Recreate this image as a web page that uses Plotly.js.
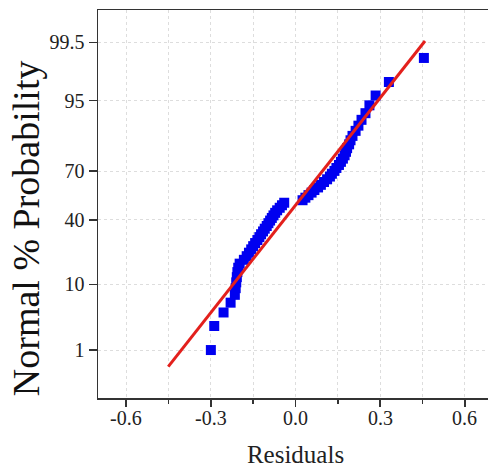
<!DOCTYPE html>
<html><head><meta charset="utf-8">
<script src="https://cdn.plot.ly/plotly-3.0.1.min.js"></script>
<style>html,body{margin:0;padding:0;overflow:hidden;background:#fff}</style>
</head><body><div id="chart"></div>
<script>
// Residuals (sorted)
const residuals = [
  -0.300, -0.288, -0.255, -0.230, -0.215, -0.212, -0.210, -0.208, -0.206, -0.203,
  -0.198, -0.183, -0.173, -0.165, -0.157, -0.150, -0.143, -0.135, -0.128, -0.122,
  -0.115, -0.109, -0.102, -0.096, -0.090, -0.084, -0.078, -0.072, -0.065, -0.056,
  -0.048, -0.040,
   0.025,  0.035,  0.046,  0.057,  0.067,  0.080,  0.090,  0.101,  0.112,  0.122,
   0.129,  0.138,  0.145,  0.154,  0.161,  0.168,  0.174,  0.179,  0.183,  0.190,
   0.195,  0.202,  0.213,  0.223,  0.234,  0.248,  0.262,  0.284,  0.331,  0.455
];
// Normal % probability of each point
const probabilities = [
  1.0, 2.6, 4.2, 5.8, 7.4, 9.0, 10.6, 12.2, 13.9, 15.5,
  17.1, 18.7, 20.3, 21.9, 23.5, 25.1, 26.7, 28.3, 29.9, 31.5,
  33.1, 34.7, 36.3, 38.0, 39.6, 41.2, 42.8, 44.4, 46.0, 47.6,
  49.2, 50.8, 52.4, 54.0, 55.6, 57.2, 58.8, 60.4, 62.0, 63.7,
  65.3, 66.9, 68.5, 70.1, 71.7, 73.3, 74.9, 76.5, 78.1, 79.7,
  81.3, 82.9, 84.5, 86.1, 87.8, 89.4, 91.0, 92.6, 94.2, 95.8,
  97.4, 99.0
];
// Fitted normal line end points
const fitResiduals = [-0.451, 0.459];
const fitProbabilities = [0.48, 99.53];

const yTickValues = [1, 10, 40, 70, 95, 99.5];
const yTickLabels = ['1', '10', '40', '70', '95', '99.5'];
const xTickValues = [-0.6, -0.3, 0.0, 0.3, 0.6];
const xTickLabels = ['-0.6', '-0.3', '0.0', '0.3', '0.6'];
const xMinorTicks = [-0.45, -0.15, 0.15, 0.45];
const yRangePct = [0.1, 99.9];
const xTitle = 'Residuals';
const yTitle = 'Normal % Probability';

// inverse standard normal CDF (Acklam)
function normInv(p) {
  const a = [-3.969683028665376e+01, 2.209460984245205e+02, -2.759285104469687e+02, 1.383577518672690e+02, -3.066479806614716e+01, 2.506628277459239e+00];
  const b = [-5.447609879822406e+01, 1.615858368580409e+02, -1.556989798598866e+02, 6.680131188771972e+01, -1.328068155288572e+01];
  const c = [-7.784894002430293e-03, -3.223964580411365e-01, -2.400758277161838e+00, -2.549732539343734e+00, 4.374664141464968e+00, 2.938163982698783e+00];
  const d = [7.784695709041462e-03, 3.224671290700398e-01, 2.445134137142996e+00, 3.754408661907416e+00];
  const pl = 0.02425, ph = 1 - pl;
  let q, r;
  if (p < pl) {
    q = Math.sqrt(-2 * Math.log(p));
    return (((((c[0]*q+c[1])*q+c[2])*q+c[3])*q+c[4])*q+c[5]) / ((((d[0]*q+d[1])*q+d[2])*q+d[3])*q+1);
  } else if (p <= ph) {
    q = p - 0.5; r = q * q;
    return (((((a[0]*r+a[1])*r+a[2])*r+a[3])*r+a[4])*r+a[5])*q / (((((b[0]*r+b[1])*r+b[2])*r+b[3])*r+b[4])*r+1);
  } else {
    q = Math.sqrt(-2 * Math.log(1 - p));
    return -(((((c[0]*q+c[1])*q+c[2])*q+c[3])*q+c[4])*q+c[5]) / ((((d[0]*q+d[1])*q+d[2])*q+d[3])*q+1);
  }
}
const toZ = pct => normInv(pct / 100);

const serif = 'Liberation Serif';
const axisColor = '#333333';
const textColor = '#222222';
const gridColor = '#dddddd';

const traces = [
  {
    type: 'scatter', mode: 'markers',
    x: residuals, y: probabilities.map(toZ),
    marker: { symbol: 'square', size: 10, color: '#0000f0', line: { width: 0 } },
    hoverinfo: 'skip', showlegend: false
  },
  {
    type: 'scatter', mode: 'lines',
    x: fitResiduals, y: fitProbabilities.map(toZ),
    line: { color: '#e3201c', width: 3 },
    hoverinfo: 'skip', showlegend: false
  }
];

// x tick labels placed just below the axis
const annotations = xTickValues.map((v, i) => ({
  x: v, xref: 'x', y: 0, yref: 'paper',
  text: xTickLabels[i], showarrow: false,
  xanchor: 'center', yanchor: 'top', yshift: -7,
  font: { family: serif, size: 20, color: textColor }
}));
annotations.push({
  x: -0.182, xref: 'paper', y: 0.438, yref: 'paper',
  text: yTitle, showarrow: false, textangle: -90,
  xanchor: 'center', yanchor: 'middle',
  font: { family: serif, size: 38, color: '#111111' }
});

const layout = {
  width: 493, height: 470,
  margin: { l: 98, r: 0, t: 10, b: 72 },
  paper_bgcolor: '#ffffff', plot_bgcolor: '#ffffff',
  font: { family: serif, color: axisColor },
  annotations: annotations,
  xaxis: {
    range: [-0.7, 0.7],
    tickmode: 'array', tickvals: xTickValues, ticktext: xTickLabels, showticklabels: false,
    ticks: 'outside', ticklen: 7, tickwidth: 1.5, tickcolor: axisColor,
    showline: true, linecolor: axisColor, linewidth: 1.5, mirror: true,
    showgrid: true, gridcolor: gridColor, griddash: 'dot', gridwidth: 1,
    zeroline: false,
    minor: { tickvals: xMinorTicks, ticks: 'outside', ticklen: 4, tickwidth: 1.5, tickcolor: axisColor,
             showgrid: true, gridcolor: gridColor, griddash: 'dot', gridwidth: 1 },
    title: { text: xTitle, font: { family: serif, size: 25, color: textColor }, standoff: 40 }
  },
  yaxis: {
    range: yRangePct.map(toZ),
    tickmode: 'array', tickvals: yTickValues.map(toZ), ticktext: yTickLabels,
    ticks: 'outside', ticklen: 8, tickwidth: 1.5, tickcolor: axisColor,
    showline: true, linecolor: axisColor, linewidth: 1.5, mirror: true,
    showgrid: true, gridcolor: gridColor, griddash: 'dot', gridwidth: 1,
    zeroline: false,
    tickfont: { family: serif, size: 20, color: textColor }
  }
};

Plotly.newPlot('chart', traces, layout, { staticPlot: true, displayModeBar: false });
</script>
</body></html>
